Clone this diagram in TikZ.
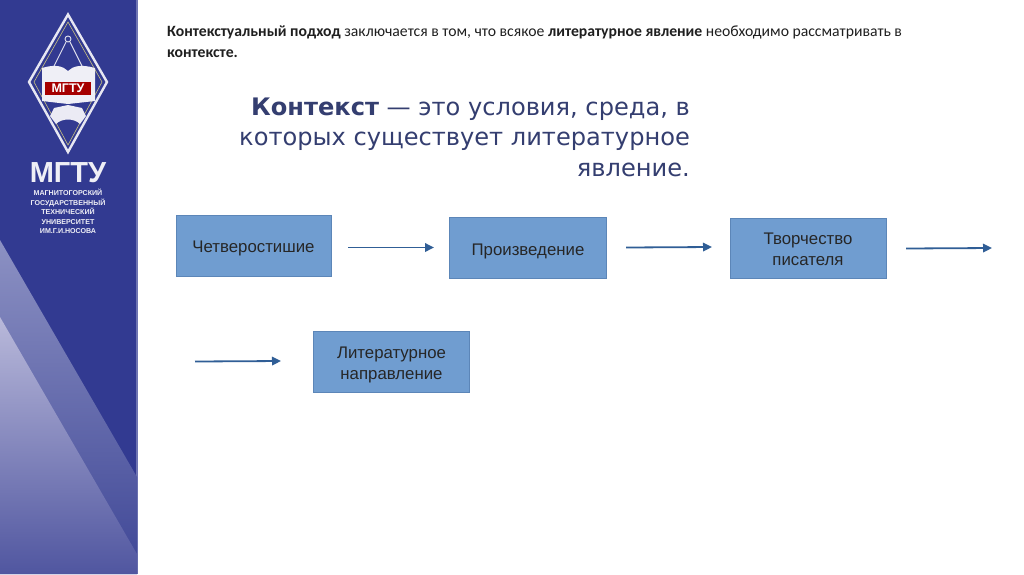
\documentclass[tikz,border=0pt]{standalone}
\usepackage{fontspec}
\setmainfont{Liberation Sans}
\newfontfamily\carl{Carlito}
\newfontfamily\headf{DejaVu Sans}
\usetikzlibrary{arrows.meta}
\definecolor{navy}{RGB}{50,58,145}
\definecolor{boxfill}{RGB}{112,157,208}
\definecolor{boxline}{RGB}{92,134,184}
\definecolor{arrowc}{RGB}{48,94,150}
\definecolor{headc}{RGB}{52,62,112}
\definecolor{bandtop}{RGB}{140,145,195}
\definecolor{bandbot}{RGB}{62,70,150}
\definecolor{tritop}{RGB}{185,185,218}
\definecolor{tribot}{RGB}{80,86,160}
\tikzset{
  x=1pt,y=-1pt,
  flowbox/.style={draw=boxline,line width=0.9pt,fill=boxfill,inner sep=0pt,align=center,font=\fontsize{16.8}{21}\selectfont,text=black!85},
  flowarrow/.style={draw=arrowc,line width=1.8pt,-{Triangle[length=9pt,width=8.5pt]}},
  logotext/.style={text=white!92!navy,inner sep=0pt,align=center}
}
\begin{document}
\begin{tikzpicture}
\useasboundingbox (0,0) rectangle (1024,574);
\fill[white] (0,0) rectangle (1024,574);
% sidebar
\fill[navy] (0,0) rectangle (137,574);
\fill[navy!70!white] (136.3,0) rectangle (137.6,574);
\shade[top color=bandtop,bottom color=bandbot] (0,240) -- (137,477) -- (137,574) -- (0,574) -- cycle;
\shade[top color=tritop,bottom color=tribot] (0,317) -- (137,554) -- (137,574) -- (0,574) -- cycle;
% logo
\draw[white!88!navy,line width=2.4pt] (68,14.5) -- (107,82) -- (68,152) -- (29,82) -- cycle;
\draw[yellow!60!white!70!navy,line width=0.6pt] (68,22) -- (102,82) -- (68,145) -- (34,82) -- cycle;
\draw[white!85!navy,line width=0.9pt] (68,39) circle (3);
\draw[white!85!navy,line width=0.9pt] (66,42) -- (47,80) (70,42) -- (89,80);
\fill[white!92!navy] (42,68) .. controls (55,64) and (63,66) .. (68,71) .. controls (73,66) and (81,64) .. (95,68) -- (95,101) -- (68,104) -- (42,101) -- cycle;
\fill[red!65!black] (45,82) rectangle (91,95);
\node[logotext,text=white,font=\bfseries\fontsize{12.5}{12.5}\selectfont] (logoMark) at (68,88.5) {МГТУ};
\fill[white!90!navy] (50,116) -- (54,108) -- (68,105) -- (82,108) -- (86,116) -- (80,124) .. controls (74,118) and (62,118) .. (56,124) -- cycle;
\node[logotext,font=\bfseries\fontsize{29}{29}\selectfont] (logoName) at (68,173) {МГТУ};
\node[logotext,font=\bfseries\fontsize{7.1}{9.55}\selectfont] (logoSub) at (68,211.5) {МАГНИТОГОРСКИЙ\\ГОСУДАРСТВЕННЫЙ\\ТЕХНИЧЕСКИЙ\\УНИВЕРСИТЕТ\\ИМ.Г.И.НОСОВА};
% top text
\node[anchor=north west,inner sep=0pt,align=left,font=\carl\fontsize{15.7}{21}\selectfont,text=black!88] (intro) at (167,25.5)
 {\textbf{Контекстуальный подход} заключается в том, что всякое \textbf{литературное явление} необходимо рассматривать в\\\textbf{контексте.}};
% heading
\node[anchor=north east,inner sep=0pt,align=right,font=\headf\fontsize{24.1}{30.5}\selectfont,text=headc] (heading) at (690,97.5)
 {\textbf{Контекст} — это условия, среда, в\\которых существует литературное\\явление.};
% boxes
\node[flowbox,minimum width=155pt,minimum height=61pt] (b1) at (253.5,246) {\rule{0pt}{16pt}Четверостишие};
\node[flowbox,minimum width=157pt,minimum height=61pt] (b2) at (528,247.5) {\rule{0pt}{20pt}Произведение};
\node[flowbox,minimum width=156pt,minimum height=60pt] (b3) at (808,248) {\rule{0pt}{14pt}Творчество\\писателя};
\node[flowbox,minimum width=156pt,minimum height=61pt] (b4) at (391.5,362) {\rule{0pt}{18pt}Литературное\\направление};
% arrows
\coordinate (a1s) at (348,247.5); \coordinate (a1e) at (434,247.5);
\coordinate (a2s) at (626,247.5); \coordinate (a2e) at (712,247);
\coordinate (a3s) at (906,248.5); \coordinate (a3e) at (992,248);
\coordinate (a4s) at (195,361.5); \coordinate (a4e) at (281,361);
\draw[flowarrow] (a1s) -- (a1e);
\draw[flowarrow] (a2s) -- (a2e);
\draw[flowarrow] (a3s) -- (a3e);
\draw[flowarrow] (a4s) -- (a4e);
\end{tikzpicture}
\end{document}
